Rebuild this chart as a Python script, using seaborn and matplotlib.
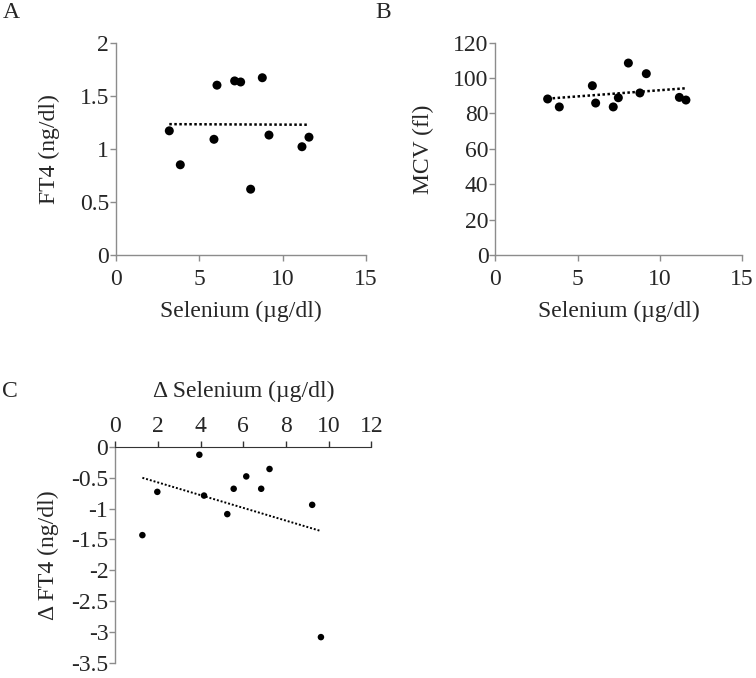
import matplotlib
matplotlib.use('Agg')
import matplotlib.pyplot as plt
import seaborn as sns
import numpy as np

sns.set_style('white')
plt.rcParams['font.family'] = ['Liberation Serif', 'DejaVu Serif']

# panel A / B: selenium vs FT4 and MCV
selenium = [3.2, 3.86, 6.06, 5.88, 7.12, 7.48, 8.08, 8.78, 9.18, 11.16, 11.58]
ft4 = [1.17, 0.85, 1.60, 1.09, 1.64, 1.63, 0.62, 1.67, 1.13, 1.02, 1.11]
selenium_b = [3.18, 3.89, 5.90, 6.10, 7.17, 7.48, 8.09, 8.79, 9.18, 11.19, 11.59]
mcv = [88.2, 83.7, 95.7, 85.9, 83.7, 88.9, 108.5, 91.6, 102.5, 89.1, 87.6]

# panel C: change in selenium vs change in FT4
d_selenium = [1.27, 1.97, 3.94, 4.16, 5.25, 5.55, 6.14, 6.84, 7.23, 9.23, 9.64]
d_ft4 = [-1.43, -0.73, -0.13, -0.79, -1.09, -0.68, -0.48, -0.68, -0.36, -0.94, -3.08]

fs = 17
grey = '#8c8c8c'

fig = plt.figure(figsize=(7.56, 6.78), dpi=100)
axA = fig.add_axes([0.1534, 0.6239, 0.3307, 0.3131])
axB = fig.add_axes([0.6552, 0.6239, 0.3263, 0.3131])
axC = fig.add_axes([0.1525, 0.0220, 0.3386, 0.3191])

def style(ax):
    for s in ['top', 'right']:
        ax.spines[s].set_visible(False)
    for s in ['left', 'bottom']:
        ax.spines[s].set_color(grey)
        ax.spines[s].set_linewidth(1.0)
    ax.tick_params(direction='out', length=4, width=1, color=grey, labelsize=fs)
    ax.tick_params(axis='both', which='both', left=True, bottom=True)
    ax.tick_params(axis='x', pad=6)
    ax.tick_params(axis='y', pad=1)
    ax.grid(False)

line_kws = {'color': 'black', 'ls': (0, (1, 1)), 'lw': 1.8}

sns.regplot(x=selenium, y=ft4, ax=axA, ci=None, color='black',
            scatter_kws={'s': 42, 'edgecolor': 'none', 'alpha': 1}, line_kws=line_kws)
axA.set_xlim(0, 15)
axA.set_ylim(0, 2)
axA.set_xticks([0, 5, 10, 15])
axA.set_yticks([0, 0.5, 1, 1.5, 2])
axA.set_yticklabels(['0', '0.5', '1', '1.5', '2'])
axA.set_xlabel('Selenium (µg/dl)', fontsize=fs, labelpad=8)
axA.set_ylabel('FT4 (ng/dl)', fontsize=fs, labelpad=14)
style(axA)

sns.regplot(x=selenium_b, y=mcv, ax=axB, ci=None, color='black',
            scatter_kws={'s': 42, 'edgecolor': 'none', 'alpha': 1}, line_kws=line_kws)
axB.set_xlim(0, 15)
axB.set_ylim(0, 120)
axB.set_xticks([0, 5, 10, 15])
axB.set_yticks(range(0, 121, 20))
axB.set_xlabel('Selenium (µg/dl)', fontsize=fs, labelpad=8)
axB.set_ylabel('MCV (fl)', fontsize=fs, labelpad=14)
style(axB)

sns.regplot(x=d_selenium, y=d_ft4, ax=axC, ci=None, color='black',
            scatter_kws={'s': 22, 'edgecolor': 'none', 'alpha': 1},
            line_kws={'color': 'black', 'ls': (0, (1, 1)), 'lw': 1.4})
axC.set_xlim(0, 12)
axC.set_ylim(-3.5, 0)
axC.set_xticks(range(0, 13, 2))
axC.set_yticks(np.arange(-3.5, 0.01, 0.5))
axC.set_yticklabels(['-3.5', '-3', '-2.5', '-2', '-1.5', '-1', '-0.5', '0'])
style(axC)
axC.spines['bottom'].set_visible(False)
axC.spines['top'].set_visible(True)
axC.spines['top'].set_color('#333333')
axC.xaxis.tick_top()
axC.xaxis.set_label_position('top')
axC.tick_params(axis='x', top=True, bottom=False, direction='out', length=4,
                color='#333333', pad=3)
axC.set_xlabel('Δ Selenium (µg/dl)', fontsize=fs, labelpad=14)
axC.set_ylabel('Δ FT4 (ng/dl)', fontsize=fs, labelpad=9)

fig.text(0.003, 0.982, 'A', fontsize=17, va='center', ha='left')
fig.text(0.497, 0.982, 'B', fontsize=17, va='center', ha='left')
fig.text(0.003, 0.4233, 'C', fontsize=17, va='center', ha='left')

fig.savefig('out.png', dpi=100)
